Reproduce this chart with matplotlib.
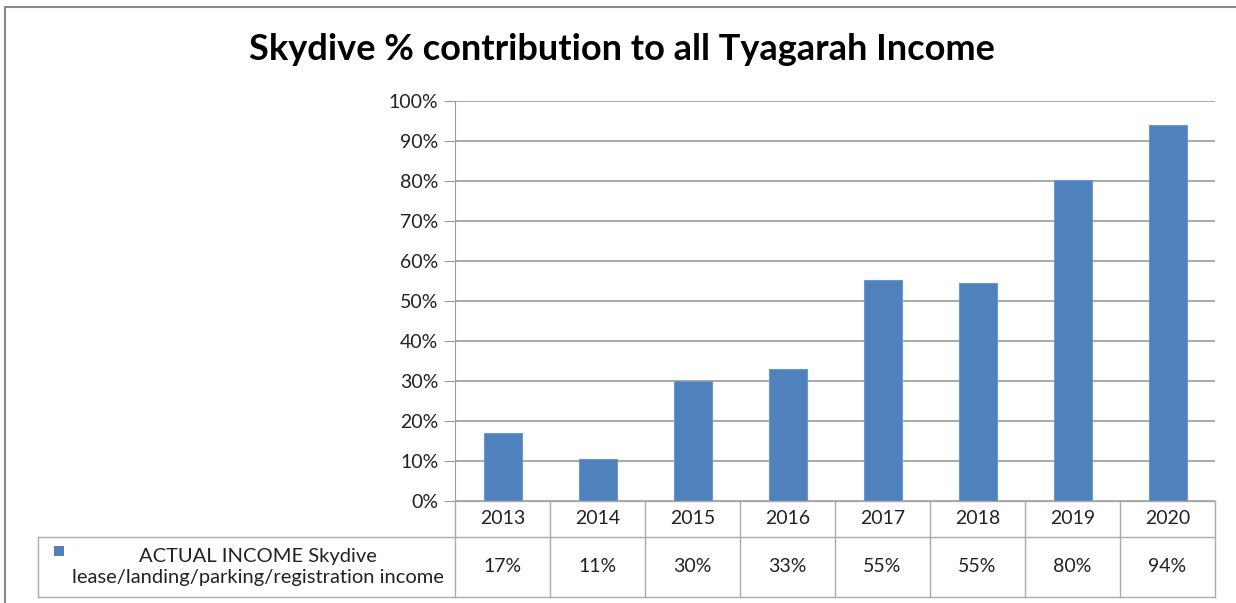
import numpy as np
import matplotlib
matplotlib.use('agg')
import matplotlib.pyplot as plt
from matplotlib.patches import Rectangle
from matplotlib.lines import Line2D

years = ["2013", "2014", "2015", "2016", "2017", "2018", "2019", "2020"]
values = [17.1, 10.4, 30.0, 33.0, 55.2, 54.6, 80.2, 93.9]
labels = ["17%", "11%", "30%", "33%", "55%", "55%", "80%", "94%"]
series_name = "ACTUAL INCOME Skydive\nlease/landing/parking/registration income"
title = "Skydive % contribution to all Tyagarah Income"

plt.rcParams['font.family'] = ['Lato', 'DejaVu Sans']

W, H = 1236, 603
fig = plt.figure(figsize=[W/100, H/100], dpi=100)

def fx(px):
    return px / W

def fy(py):
    return 1 - py / H

# outer chart frame
fig.add_artist(Rectangle((fx(5), fy(640)), fx(1300), fy(7) - fy(640), transform=fig.transFigure,
                         fill=False, edgecolor="#888888", lw=1.5))

x0, x1, ytop, ybot = 455, 1215, 101, 501
ax = fig.add_axes([fx(x0), fy(ybot), fx(x1 - x0), fy(ytop) - fy(ybot)])
x = np.arange(len(years))
ax.bar(x, values, width=0.4, color="#4F81BD", edgecolor="#6d97cc", lw=0.8, zorder=3)
ax.set_xlim(-0.5, len(years) - 0.5)
ax.set_ylim(0, 100)
ax.set_yticks(np.arange(0, 101, 10))
ax.set_yticklabels([f"{t}%" for t in range(0, 101, 10)], fontsize=14, color="#222222")
ax.yaxis.grid(True, color="#999999", lw=1.2, zorder=0)
ax.set_xticks([])
for s in ["top", "right", "bottom"]:
    ax.spines[s].set_visible(False)
ax.spines["left"].set_color("#999999")
ax.tick_params(axis="y", length=8, color="#999999", pad=4)

fig.suptitle(title, x=fx(622), y=fy(50), va="center", fontsize=26, fontweight="bold")

# data table
line_col = "#aaaaaa"
r0, r1, r2 = 501, 537, 597
leg_x = 38
colw = (x1 - x0) / len(years)

def hline(xa, xb, yy):
    fig.add_artist(Line2D([fx(xa), fx(xb)], [fy(yy), fy(yy)], transform=fig.transFigure, color=line_col, lw=1))

def vline(xx, ya, yb):
    fig.add_artist(Line2D([fx(xx), fx(xx)], [fy(ya), fy(yb)], transform=fig.transFigure, color=line_col, lw=1))

hline(x0, x1, r0)
hline(leg_x, x1, r1)
hline(leg_x, x1, r2)
vline(leg_x, r1, r2)
for i in range(len(years) + 1):
    vline(x0 + i * colw, r0, r2)

for i, (yr, lab) in enumerate(zip(years, labels)):
    cx = x0 + (i + 0.5) * colw
    fig.text(fx(cx), fy((r0 + r1) / 2), yr, ha="center", va="center", fontsize=14, color="#222222")
    fig.text(fx(cx), fy((r1 + r2) / 2), lab, ha="center", va="center", fontsize=14, color="#222222")

fig.add_artist(Rectangle((fx(54), fy(556)), fx(10), fy(546) - fy(556), transform=fig.transFigure,
                         facecolor="#4F81BD", edgecolor="none"))
fig.text(fx(258), fy((r1 + r2) / 2), series_name, ha="center", va="center", fontsize=14.5,
         color="#222222", linespacing=1.3)

fig.savefig("out.png", dpi=100)
plt.close()
